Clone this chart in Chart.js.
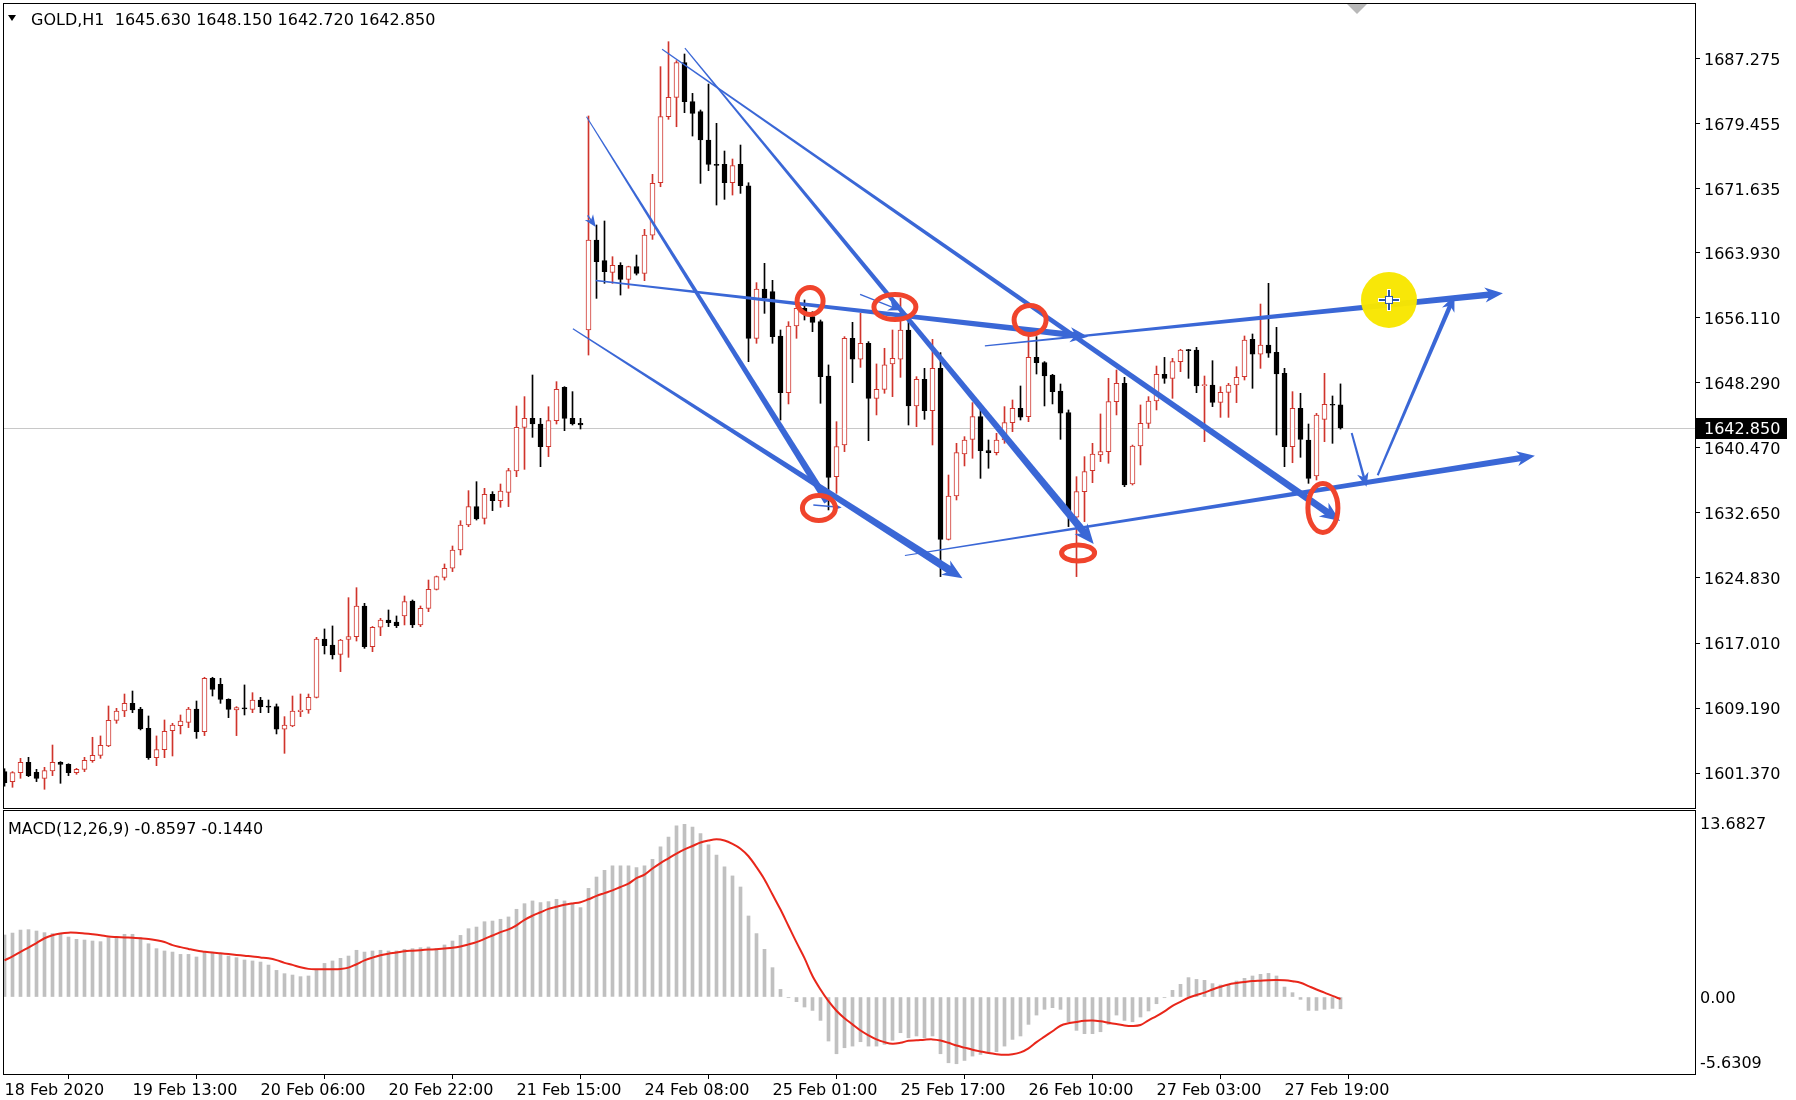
<!DOCTYPE html>
<html>
<head>
<meta charset="utf-8">
<title>GOLD,H1</title>
<script src="https://cdn.jsdelivr.net/npm/chart.js@4.4.1/dist/chart.umd.min.js"></script>
<style>
html,body{margin:0;padding:0;background:#fff;}
#wrap{position:relative;width:1796px;height:1100px;overflow:hidden;background:#fff;}
#priceCanvas{position:absolute;left:0;top:0;}
#macdCanvas{position:absolute;left:0;top:810px;}
.lbl{position:absolute;font-family:"DejaVu Sans",sans-serif;font-size:16px;line-height:19px;color:#000;white-space:pre;}
#tri{position:absolute;left:8px;top:15px;width:0;height:0;border-left:4px solid transparent;border-right:4px solid transparent;border-top:6px solid #000;}
</style>
</head>
<body>
<div id="wrap">
  <canvas id="priceCanvas" width="1796" height="810"></canvas>
  <canvas id="macdCanvas" width="1796" height="290"></canvas>
  <div id="tri"></div>
  <div class="lbl" style="left:31px;top:10px;">GOLD,H1  1645.630 1648.150 1642.720 1642.850</div>
  <div class="lbl" style="left:8px;top:819px;">MACD(12,26,9) -0.8597 -0.1440</div>
</div>
<script>
// ---------------- DATA ----------------
const timeTickBars = [0,16,32,48,64,80,96,112,128,144,160];
const timeTickLabels = ["18 Feb 2020","19 Feb 13:00","20 Feb 06:00","20 Feb 22:00","21 Feb 15:00","24 Feb 08:00","25 Feb 01:00","25 Feb 17:00","26 Feb 10:00","27 Feb 03:00","27 Feb 19:00"];
const priceTicks = [1687.275,1679.455,1671.635,1663.930,1656.110,1648.290,1640.470,1632.650,1624.830,1617.010,1609.190,1601.370];
const macdTickLabels = ["13.6827","0.00","-5.6309"];

const opens = [
1601.55,1600.35,1601.43,1602.67,1601.47,1600.75,1601.63,1602.67,1602.43,1601.43,
1601.83,1602.87,1603.51,1604.63,1607.72,1608.84,1609.76,1609.08,1606.76,1603.23,
1604.19,1606.48,1607.08,1607.48,1609.08,1606.36,1612.77,1612.05,1610.24,1608.96,
1609.16,1609.04,1610.16,1609.44,1609.36,1606.64,1607.04,1608.76,1608.96,1610.48,
1617.49,1616.77,1615.65,1617.45,1617.77,1621.46,1616.57,1618.90,1619.78,1619.54,
1620.26,1622.06,1619.18,1621.18,1623.46,1624.90,1625.99,1628.19,1631.19,1633.40,
1631.99,1634.88,1634.12,1635.12,1637.68,1642.93,1644.01,1643.33,1640.61,1643.73,
1647.74,1644.01,1643.41,1654.63,1665.45,1662.96,1661.56,1662.40,1660.72,1662.24,
1661.44,1666.04,1672.33,1680.27,1682.59,1686.76,1682.07,1680.87,1677.46,1674.54,
1674.54,1672.33,1674.54,1671.97,1653.63,1659.56,1659.24,1653.91,1647.10,1655.11,
1657.23,1656.23,1655.63,1649.10,1637.00,1640.81,1653.63,1651.11,1653.03,1646.42,
1647.50,1650.55,1651.11,1654.63,1645.50,1648.70,1644.94,1650.02,1629.47,1634.68,
1639.73,1641.49,1644.22,1640.13,1639.89,1641.41,1643.49,1645.22,1644.22,1651.35,
1650.71,1649.22,1647.30,1644.70,1632.12,1635.20,1637.73,1639.61,1640.01,1646.02,
1648.22,1636.12,1640.69,1643.41,1646.10,1649.30,1648.82,1650.82,1652.23,1652.23,
1647.94,1648.02,1645.94,1647.14,1648.02,1649.02,1653.51,1651.71,1652.83,1651.95,
1649.42,1640.61,1645.22,1641.41,1637.08,1643.89,1645.70,1645.63];

const highs = [
1601.90,1601.55,1603.15,1603.27,1601.83,1602.07,1604.75,1602.75,1602.50,1601.95,
1603.27,1605.68,1605.84,1609.44,1609.16,1610.88,1611.24,1609.28,1608.24,1605.84,
1607.76,1607.36,1608.36,1609.28,1610.04,1612.89,1612.89,1612.77,1610.30,1609.36,
1611.97,1611.04,1610.48,1610.16,1609.68,1608.16,1610.64,1610.88,1610.88,1617.69,
1618.70,1619.06,1617.45,1622.46,1623.66,1621.78,1619.00,1619.98,1620.98,1620.26,
1622.66,1622.18,1621.46,1624.58,1625.06,1626.51,1628.67,1631.71,1635.32,1636.40,
1635.60,1635.20,1636.12,1638.00,1645.49,1646.62,1649.22,1644.01,1645.41,1648.42,
1647.82,1647.22,1644.01,1680.35,1667.25,1667.73,1663.44,1662.72,1662.30,1663.64,
1666.73,1673.34,1686.28,1689.28,1687.00,1687.80,1683.07,1681.07,1684.19,1679.47,
1676.14,1675.18,1676.86,1672.33,1660.32,1662.64,1660.60,1654.63,1655.63,1657.84,
1658.24,1656.83,1655.83,1650.43,1643.61,1653.83,1655.55,1656.63,1653.23,1650.55,
1652.43,1654.63,1658.44,1655.83,1649.02,1650.02,1653.51,1651.91,1637.20,1641.01,
1641.81,1645.90,1645.42,1641.41,1642.21,1645.42,1646.22,1647.90,1654.71,1653.83,
1650.83,1649.30,1648.14,1645.02,1637.00,1639.41,1641.01,1644.54,1648.82,1649.82,
1648.94,1640.80,1645.62,1646.62,1650.30,1651.34,1651.22,1652.31,1652.30,1652.55,
1649.10,1650.94,1647.82,1648.22,1650.22,1653.91,1654.15,1657.75,1660.24,1654.95,
1650.02,1647.22,1647.02,1643.33,1644.61,1649.42,1646.70,1648.15];

const lows = [
1599.80,1599.67,1600.75,1600.95,1600.35,1599.43,1601.07,1600.15,1601.07,1601.23,
1601.55,1602.67,1603.15,1604.55,1607.36,1608.16,1608.64,1606.56,1603.03,1602.27,
1603.23,1603.43,1606.08,1606.84,1605.55,1605.88,1610.64,1609.76,1608.04,1605.88,
1608.36,1608.64,1608.64,1608.64,1606.08,1603.75,1606.95,1608.16,1608.56,1610.40,
1615.69,1615.09,1613.57,1615.29,1617.25,1616.37,1615.97,1617.89,1618.98,1618.86,
1619.18,1618.86,1618.98,1620.78,1623.38,1624.58,1625.59,1627.59,1630.99,1631.79,
1631.31,1632.92,1633.32,1633.40,1637.00,1637.88,1641.73,1638.20,1639.41,1643.33,
1642.53,1643.21,1642.73,1651.62,1658.43,1660.24,1660.24,1658.83,1659.64,1661.24,
1660.56,1665.52,1671.85,1679.95,1679.06,1680.75,1677.94,1672.25,1673.78,1669.65,
1670.33,1670.85,1671.05,1650.82,1653.03,1656.63,1653.03,1643.81,1645.74,1653.63,
1655.83,1654.43,1645.82,1633.00,1635.00,1640.01,1648.30,1650.14,1641.33,1644.42,
1647.02,1646.62,1648.94,1643.21,1643.01,1643.89,1640.81,1624.99,1629.39,1634.20,
1638.29,1639.21,1636.80,1638.01,1639.61,1641.01,1642.41,1643.81,1643.61,1649.34,
1645.50,1645.74,1641.49,1631.00,1624.99,1631.60,1636.28,1638.81,1638.61,1644.42,
1635.80,1636.00,1638.41,1642.81,1645.02,1648.22,1646.42,1649.62,1648.82,1647.10,
1641.21,1645.42,1644.13,1644.13,1645.90,1648.62,1647.62,1650.02,1651.34,1642.01,
1638.20,1638.68,1639.33,1636.20,1636.60,1641.21,1641.01,1642.72];

const closes = [
1600.23,1601.43,1602.67,1601.07,1600.75,1601.67,1602.67,1602.43,1601.43,1601.83,
1602.91,1603.51,1604.71,1607.72,1608.84,1609.76,1608.96,1606.68,1603.23,1604.19,
1606.40,1607.16,1607.64,1609.08,1606.36,1612.77,1611.44,1610.24,1609.04,1609.24,
1609.10,1610.16,1609.36,1609.30,1606.64,1607.16,1608.84,1608.96,1610.48,1617.49,
1616.69,1615.57,1617.37,1617.77,1621.46,1616.57,1618.90,1619.78,1619.46,1619.10,
1621.98,1619.18,1621.18,1623.46,1624.98,1625.99,1628.19,1631.19,1633.40,1631.91,
1634.88,1634.12,1635.28,1637.72,1642.93,1644.01,1643.33,1640.61,1643.73,1647.50,
1644.01,1643.33,1643.21,1665.45,1662.84,1661.64,1662.40,1660.72,1662.24,1661.44,
1666.04,1672.25,1680.27,1682.59,1686.76,1682.07,1680.67,1677.46,1674.54,1674.42,
1672.33,1674.38,1671.97,1653.63,1659.56,1658.44,1653.83,1647.10,1655.11,1657.23,
1656.83,1655.55,1649.02,1636.92,1640.61,1653.63,1651.11,1653.03,1646.42,1647.50,
1650.43,1651.23,1654.63,1645.50,1648.70,1644.94,1650.02,1629.47,1634.68,1639.89,
1641.41,1644.22,1640.13,1639.89,1641.41,1643.49,1645.22,1644.14,1651.35,1650.71,
1649.10,1647.22,1644.62,1632.80,1635.20,1637.61,1639.73,1640.01,1646.02,1648.22,
1636.00,1640.69,1643.41,1646.10,1649.30,1648.82,1650.82,1652.23,1652.15,1647.90,
1648.02,1645.94,1647.14,1648.02,1648.94,1653.43,1651.71,1652.83,1651.83,1649.34,
1640.61,1645.22,1641.49,1636.80,1644.41,1645.70,1645.58,1642.85];

const macdMain = [
4.54,4.68,4.90,4.93,4.83,4.71,4.64,4.59,4.39,4.22,
4.17,4.10,4.05,4.34,4.39,4.59,4.59,4.34,3.90,3.54,
3.37,3.29,3.12,3.12,2.93,3.25,3.25,3.17,3.00,2.88,
2.71,2.64,2.56,2.34,1.95,1.71,1.61,1.49,1.54,1.95,
2.46,2.64,2.83,3.00,3.42,3.29,3.37,3.42,3.37,3.37,
3.49,3.54,3.61,3.66,3.56,3.81,4.10,4.51,5.00,5.12,
5.51,5.56,5.69,5.86,6.42,6.83,7.03,6.91,6.98,7.15,
7.03,6.78,6.54,7.95,8.78,9.27,9.59,9.59,9.59,9.47,
9.59,10.08,10.98,11.71,12.52,12.64,12.44,11.96,11.13,10.39,
9.52,8.86,8.05,5.93,4.64,3.49,2.15,0.56,-0.05,-0.34,
-0.73,-0.98,-1.71,-3.22,-4.15,-3.71,-3.59,-3.27,-3.59,-3.59,
-3.46,-3.17,-2.61,-2.98,-2.85,-2.98,-2.85,-4.15,-4.81,-4.88,
-4.64,-4.32,-4.20,-4.07,-4.00,-3.59,-3.10,-2.85,-2.00,-1.32,
-0.90,-0.78,-0.90,-1.81,-2.44,-2.68,-2.68,-2.54,-2.00,-1.32,
-1.71,-1.81,-1.46,-1.02,-0.49,-0.05,0.49,0.93,1.42,1.29,
1.22,0.98,0.88,0.93,1.17,1.37,1.54,1.66,1.73,1.54,
0.73,0.32,-0.17,-0.98,-0.98,-0.90,-0.83,-0.8597];

const macdSignal = [
2.68,2.98,3.30,3.62,3.95,4.30,4.52,4.65,4.71,4.70,
4.65,4.59,4.52,4.43,4.39,4.36,4.34,4.30,4.25,4.15,
4.02,3.80,3.65,3.52,3.40,3.32,3.25,3.20,3.14,3.08,
3.02,2.97,2.90,2.83,2.70,2.50,2.35,2.18,2.06,2.03,
2.03,2.03,2.05,2.15,2.40,2.68,2.88,3.05,3.17,3.25,
3.35,3.39,3.43,3.47,3.50,3.55,3.60,3.70,3.85,4.02,
4.25,4.50,4.75,4.95,5.25,5.65,5.95,6.20,6.45,6.60,
6.75,6.85,6.93,7.15,7.40,7.60,7.80,8.05,8.30,8.70,
8.95,9.40,9.80,10.15,10.50,10.80,11.05,11.30,11.45,11.54,
11.45,11.20,10.85,10.30,9.50,8.60,7.50,6.40,5.20,4.00,
2.85,1.54,0.55,-0.30,-1.00,-1.55,-2.00,-2.45,-2.80,-3.10,
-3.30,-3.42,-3.35,-3.20,-3.17,-3.12,-3.10,-3.18,-3.35,-3.55,
-3.70,-3.85,-3.98,-4.10,-4.18,-4.22,-4.18,-4.05,-3.75,-3.30,
-2.90,-2.50,-2.10,-1.92,-1.82,-1.74,-1.72,-1.78,-1.88,-1.98,
-2.08,-2.12,-2.05,-1.70,-1.40,-1.05,-0.65,-0.35,-0.05,0.15,
0.32,0.55,0.75,0.92,1.02,1.10,1.17,1.20,1.23,1.24,
1.22,1.15,1.05,0.80,0.55,0.32,0.08,-0.144];

// ---------------- DRAWINGS (hand-drawn analysis objects, in bar / price units) ----------------
// [bar0, price0, bar1, price1, widthStart, widthEnd, arrowHeadSize]
const trendArrows = [
  [72.75,1680.25,102.85,1634.00,1,7,0],
  [101.1,1633.60,104.65,1633.30,1.5,1.5,9],
  [71.05,1654.78,119.75,1624.78,1.2,8,20],
  [73.9,1660.57,135.45,1653.82,1.5,6.5,18],
  [72.9,1668.40,73.9,1667.00,1.5,1.5,12],
  [82.2,1688.37,166.95,1631.66,1.2,7,20],
  [85.05,1688.51,136.15,1628.91,1.2,7.5,20],
  [106.95,1658.91,111.95,1656.99,1.5,1.5,12],
  [122.55,1652.72,187.3,1659.05,1.2,6.5,18],
  [112.55,1627.53,191.3,1639.51,1.2,6.5,18],
  [168.4,1642.26,170.25,1635.79,2,2.5,14],
  [171.65,1637.17,181.25,1658.78,2,4.5,16]
];
// [bar, price, radiusX px, radiusY px]
const rings = [
  [100.7,1658.12,15.5,16],
  [111.3,1657.40,23.5,15],
  [101.8,1633.24,19,15],
  [128.2,1655.83,18.5,17],
  [134.2,1627.83,19,10.5],
  [164.8,1633.24,17.5,27]
];
const cursorMark = [173.06,1658.24];
const shiftMarkBar = 169.06;

// ---------------- LAYOUT / STYLE ----------------
const XMIN = -0.1875, XMAX = 211.3125;
const PMIN = 1597.18, PMAX = 1693.93;
const MMIN = -5.6309, MMAX = 13.6827;
const BULL = '#d0342c', BEAR = '#000000', BLUE = '#3a67d6', RING = '#f0442c';
const FONT = "'DejaVu Sans', sans-serif";

Chart.defaults.font.family = FONT;
Chart.defaults.font.size = 16;
Chart.defaults.color = '#000';

const idx = closes.map((_, i) => i);
const isBull = i => closes[i] >= opens[i];
const lastPrice = closes[closes.length - 1];

function noPad(s){ s.paddingTop = 0; s.paddingBottom = 0; s.paddingLeft = 0; s.paddingRight = 0; }

function drawFrame(chart){
  const a = chart.chartArea, c = chart.ctx;
  c.save();
  c.strokeStyle = '#000'; c.lineWidth = 1;
  c.strokeRect(Math.round(a.left) + 0.5, Math.round(a.top) + 0.5,
               Math.round(a.right) - Math.round(a.left), Math.round(a.bottom) - Math.round(a.top));
  c.restore();
}

function drawTaper(c, x0, y0, x1, y1, w0, w1, head){
  const dx = x1 - x0, dy = y1 - y0, L = Math.hypot(dx, dy) || 1;
  const ux = dx / L, uy = dy / L, nx = -uy, ny = ux;
  const back = head ? head * 0.55 : 0;
  const ex = x1 - ux * back, ey = y1 - uy * back;
  c.beginPath();
  c.moveTo(x0 + nx * w0 / 2, y0 + ny * w0 / 2);
  c.lineTo(ex + nx * w1 / 2, ey + ny * w1 / 2);
  c.lineTo(ex - nx * w1 / 2, ey - ny * w1 / 2);
  c.lineTo(x0 - nx * w0 / 2, y0 - ny * w0 / 2);
  c.closePath(); c.fill();
  if (head){
    const hw = head * 0.42;
    const bx = x1 - ux * head, by = y1 - uy * head;
    c.beginPath();
    c.moveTo(x1, y1);
    c.lineTo(bx + nx * hw, by + ny * hw);
    c.lineTo(x1 - ux * head * 0.7, y1 - uy * head * 0.7);
    c.lineTo(bx - nx * hw, by - ny * hw);
    c.closePath(); c.fill();
  }
}

const priceOverlay = {
  id: 'priceOverlay',
  beforeDatasetsDraw(chart){
    const {ctx, chartArea: a, scales: {y}} = chart;
    const py = Math.round(y.getPixelForValue(lastPrice)) + 0.5;
    ctx.save(); ctx.strokeStyle = '#c8c8c8'; ctx.lineWidth = 1;
    ctx.beginPath(); ctx.moveTo(a.left, py); ctx.lineTo(a.right, py); ctx.stroke();
    ctx.restore();
  },
  afterDatasetsDraw(chart){
    const {ctx, chartArea: a, scales: {x, y}} = chart;
    ctx.save();
    ctx.beginPath(); ctx.rect(a.left, a.top, a.right - a.left, a.bottom - a.top); ctx.clip();
    ctx.fillStyle = BLUE;
    trendArrows.forEach(t => {
      drawTaper(ctx, x.getPixelForValue(t[0]), y.getPixelForValue(t[1]),
                x.getPixelForValue(t[2]), y.getPixelForValue(t[3]), t[4], t[5], t[6]);
    });
    ctx.strokeStyle = RING; ctx.lineWidth = 5;
    rings.forEach(r => {
      ctx.beginPath();
      ctx.ellipse(x.getPixelForValue(r[0]), y.getPixelForValue(r[1]), r[2] - 2.5, r[3] - 2.5, 0, 0, Math.PI * 2);
      ctx.stroke();
    });
    const cx = x.getPixelForValue(cursorMark[0]), cy = y.getPixelForValue(cursorMark[1]);
    ctx.fillStyle = 'rgba(248,230,0,0.97)';
    ctx.beginPath(); ctx.arc(cx, cy, 28, 0, Math.PI * 2); ctx.fill();
    ctx.strokeStyle = '#ffffff'; ctx.lineWidth = 4;
    ctx.beginPath(); ctx.moveTo(cx - 11, cy); ctx.lineTo(cx + 11, cy); ctx.moveTo(cx, cy - 11); ctx.lineTo(cx, cy + 11); ctx.stroke();
    ctx.strokeStyle = '#2a56a8'; ctx.lineWidth = 2;
    ctx.beginPath(); ctx.moveTo(cx - 10, cy); ctx.lineTo(cx + 10, cy); ctx.moveTo(cx, cy - 10); ctx.lineTo(cx, cy + 10); ctx.stroke();
    ctx.fillStyle = '#ffffff'; ctx.fillRect(cx - 3, cy - 3, 6, 6);
    ctx.strokeStyle = '#2a56a8'; ctx.lineWidth = 1; ctx.strokeRect(cx - 3.5, cy - 3.5, 7, 7);
    ctx.restore();
  },
  afterDraw(chart){
    drawFrame(chart);
    const {ctx, chartArea: a, scales: {x, y}} = chart;
    const sx = x.getPixelForValue(shiftMarkBar);
    ctx.save();
    ctx.fillStyle = '#b8b8b8';
    ctx.beginPath(); ctx.moveTo(sx - 10, a.top + 1); ctx.lineTo(sx + 10, a.top + 1); ctx.lineTo(sx, a.top + 11); ctx.closePath(); ctx.fill();
    const py = Math.round(y.getPixelForValue(lastPrice));
    ctx.fillStyle = '#000';
    ctx.fillRect(a.right + 1, py - 10, 91, 21);
    ctx.fillStyle = '#fff';
    ctx.font = '16px ' + FONT; ctx.textBaseline = 'middle'; ctx.textAlign = 'left';
    ctx.fillText(lastPrice.toFixed(3), a.right + 9, py + 2);
    ctx.restore();
  }
};

new Chart(document.getElementById('priceCanvas'), {
  type: 'bar',
  data: {
    datasets: [
      {
        label: 'wick',
        data: idx.map(i => ({x: i, y: [lows[i], highs[i]]})),
        barThickness: 1,
        backgroundColor: idx.map(i => isBull(i) ? BULL : BEAR),
        borderWidth: 0,
        grouped: false,
        order: 2
      },
      {
        label: 'body',
        data: idx.map(i => ({x: i, y: [Math.min(opens[i], closes[i]), Math.max(opens[i], closes[i])]})),
        barThickness: 5,
        minBarLength: 1,
        backgroundColor: idx.map(i => isBull(i) ? '#ffffff' : BEAR),
        borderColor: idx.map(i => isBull(i) ? BULL : BEAR),
        borderWidth: 1,
        borderSkipped: false,
        grouped: false,
        order: 1
      }
    ]
  },
  options: {
    responsive: false, animation: false, events: [],
    layout: {padding: {left: 3, top: 3, right: 0, bottom: 2}},
    plugins: {legend: {display: false}, tooltip: {enabled: false}},
    scales: {
      x: {type: 'linear', min: XMIN, max: XMAX, offset: false, display: false},
      y: {
        type: 'linear', position: 'right', min: PMIN, max: PMAX,
        afterBuildTicks: s => { s.ticks = priceTicks.map(v => ({value: v})); },
        afterFit: s => { s.width = 101; noPad(s); },
        grid: {drawOnChartArea: false, drawTicks: true, tickLength: 5, color: '#000'},
        border: {display: true, color: '#000'},
        ticks: {autoSkip: false, padding: 4, labelOffset: 2, color: '#000', font: {family: FONT, size: 16},
                callback: v => Number(v).toFixed(3)}
      }
    }
  },
  plugins: [priceOverlay]
});

const macdFrame = { id: 'macdFrame', afterDraw(chart){ drawFrame(chart); } };
const macdPxPerUnit = (MMAX - MMIN) / 264;

new Chart(document.getElementById('macdCanvas'), {
  type: 'bar',
  data: {
    datasets: [
      {
        type: 'line',
        label: 'signal',
        data: idx.map(i => ({x: i, y: macdSignal[i]})),
        borderColor: '#e8261a',
        borderWidth: 2,
        pointRadius: 0,
        tension: 0.35,
        order: 0
      },
      {
        label: 'macd',
        data: idx.map(i => ({x: i, y: macdMain[i]})),
        barThickness: 3,
        backgroundColor: '#c0c0c0',
        borderWidth: 0,
        grouped: false,
        order: 1
      }
    ]
  },
  options: {
    responsive: false, animation: false, events: [],
    layout: {padding: {left: 3, top: 0, right: 0, bottom: 0}},
    plugins: {legend: {display: false}, tooltip: {enabled: false}},
    scales: {
      x: {
        type: 'linear', position: 'bottom', min: XMIN, max: XMAX, offset: false,
        afterBuildTicks: s => { s.ticks = timeTickBars.map(v => ({value: v})); },
        afterFit: s => { s.height = 26; noPad(s); },
        grid: {drawOnChartArea: false, drawTicks: true, tickLength: 5, color: '#000'},
        border: {display: true, color: '#000'},
        ticks: {autoSkip: false, maxRotation: 0, minRotation: 0, align: 'start', padding: 2,
                color: '#000', font: {family: FONT, size: 16},
                callback: v => { const k = timeTickBars.indexOf(v); return k >= 0 ? timeTickLabels[k] : ''; }}
      },
      y: {
        type: 'linear', position: 'right', min: MMIN, max: MMAX,
        afterBuildTicks: s => { s.ticks = [MMAX - 12.5 * macdPxPerUnit, 0, MMIN + 12.5 * macdPxPerUnit].map(v => ({value: v})); },
        afterFit: s => { s.width = 101; noPad(s); },
        grid: {drawOnChartArea: false, drawTicks: false},
        border: {display: true, color: '#000'},
        ticks: {autoSkip: false, padding: 5, labelOffset: 2, color: '#000', font: {family: FONT, size: 16},
                callback: (v, i) => macdTickLabels[i]}
      }
    }
  },
  plugins: [macdFrame]
});
</script>
</body>
</html>
